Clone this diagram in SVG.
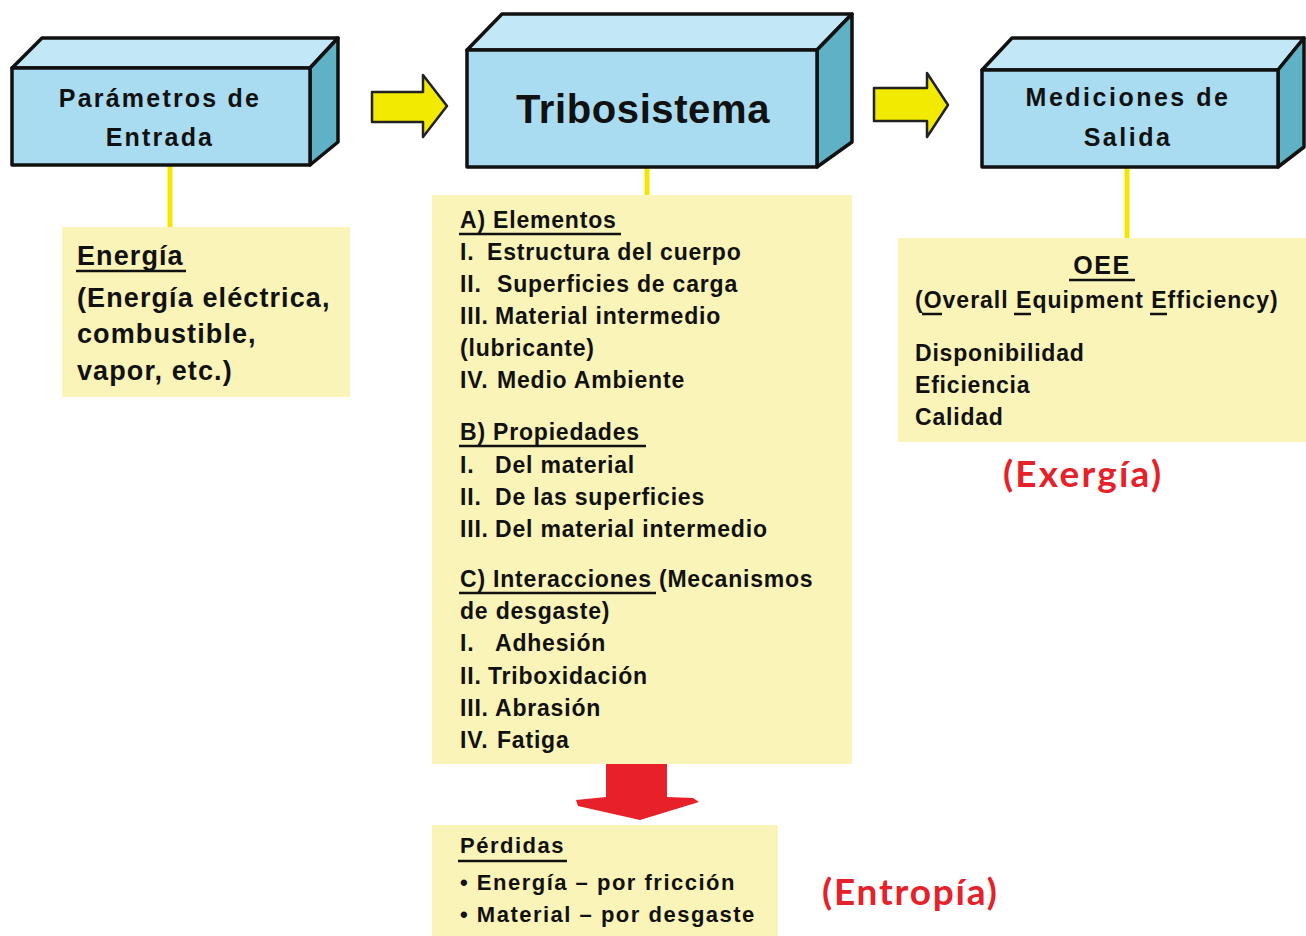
<svg xmlns="http://www.w3.org/2000/svg" width="1306" height="936" viewBox="0 0 1306 936">
<style>
.front{fill:#a9dcf0;stroke:#111;stroke-width:3.5;stroke-linejoin:round}
.top{fill:#c2e7f6;stroke:#111;stroke-width:3.5;stroke-linejoin:round}
.side{fill:#5fb2c5;stroke:#111;stroke-width:3.5;stroke-linejoin:round}
.note{fill:#faf4b9}
.bt{font-family:"Liberation Sans",Arial,sans-serif;font-weight:bold;fill:#111;text-anchor:middle}
.t{font-family:"Liberation Sans",Arial,sans-serif;font-weight:bold;fill:#111}
.ul{stroke:#111;stroke-width:2.5}
.red{font-family:Lato,"Open Sans",sans-serif;font-weight:bold;fill:#e62129}
.link{stroke:#f4e600;stroke-width:5}
.yarrow{fill:#f2ea00;stroke:#222;stroke-width:2.5;stroke-linejoin:round}
</style>
<rect width="1306" height="936" fill="#ffffff"/>

<g id="connectors">
<line class="link" x1="170" y1="165" x2="170" y2="228"/>
<line class="link" x1="647" y1="152" x2="647" y2="196"/>
<line class="link" x1="1127" y1="166" x2="1127" y2="238"/>
<polygon class="yarrow" points="372,92 423,92 423,75 447,106 423,137 423,122 372,122"/>
<polygon class="yarrow" points="874,88 927,88 927,73 948,105 927,137 927,121 874,121"/>
<polygon fill="#e8202a" points="606,756 667,756 667,797 693,798 699,802 640,820 578,806 576,800 606,797"/>
</g>

<g id="node-entrada">
<polygon class="top" points="12,68 42,38 338,38 310,68"/>
<polygon class="side" points="310,68 338,38 338,142 310,165"/>
<rect class="front" x="12" y="68" width="298" height="97"/>
<text class="bt" x="160" y="107" font-size="25" letter-spacing="2.2">Parámetros de</text>
<text class="bt" x="160" y="146" font-size="25" letter-spacing="2.2">Entrada</text>
</g>

<g id="node-tribosistema">
<polygon class="top" points="467,50 502,14 852,14 817,50"/>
<polygon class="side" points="817,50 852,14 852,142 817,167"/>
<rect class="front" x="467" y="50" width="350" height="117"/>
<text class="bt" x="643" y="123" font-size="40" letter-spacing="0.6">Tribosistema</text>
</g>

<g id="node-salida">
<polygon class="top" points="982,70 1012,38 1304,38 1278,70"/>
<polygon class="side" points="1278,70 1304,38 1304,147 1278,167"/>
<rect class="front" x="982" y="70" width="296" height="97"/>
<text class="bt" x="1128" y="106" font-size="25" letter-spacing="2.5">Mediciones de</text>
<text class="bt" x="1128" y="146" font-size="25" letter-spacing="2.5">Salida</text>
</g>

<g id="node-energia">
<rect class="note" x="62" y="227" width="288" height="170"/>
<text class="t" x="77" y="265" font-size="27" letter-spacing="1.1">Energía</text>
<line class="ul" x1="76" y1="271" x2="186" y2="271"/>
<text class="t" x="77" y="307" font-size="27" letter-spacing="1.1">(Energía eléctrica,</text>
<text class="t" x="77" y="343" font-size="27" letter-spacing="1.1">combustible,</text>
<text class="t" x="77" y="380" font-size="27" letter-spacing="1.1">vapor, etc.)</text>
</g>

<g id="node-detalle">
<rect class="note" x="432" y="195" width="420" height="569"/>
<g class="t" font-size="23" letter-spacing="0.8">
<text x="460" y="228">A) Elementos</text>
<text y="260"><tspan x="460">I.</tspan><tspan x="487">Estructura del cuerpo</tspan></text>
<text y="292"><tspan x="460">II.</tspan><tspan x="497">Superficies de carga</tspan></text>
<text y="324"><tspan x="460">III.</tspan><tspan x="495">Material intermedio</tspan></text>
<text x="460" y="356">(lubricante)</text>
<text y="388"><tspan x="460">IV.</tspan><tspan x="497">Medio Ambiente</tspan></text>
<text x="460" y="440">B) Propiedades</text>
<text y="473"><tspan x="460">I.</tspan><tspan x="495">Del material</tspan></text>
<text y="505"><tspan x="460">II.</tspan><tspan x="495">De las superficies</tspan></text>
<text y="537"><tspan x="460">III.</tspan><tspan x="495">Del material intermedio</tspan></text>
<text x="460" y="587">C) Interacciones (Mecanismos</text>
<text x="460" y="619">de desgaste)</text>
<text y="651"><tspan x="460">I.</tspan><tspan x="495">Adhesión</tspan></text>
<text y="684"><tspan x="460">II.</tspan><tspan x="488">Triboxidación</tspan></text>
<text y="716"><tspan x="460">III.</tspan><tspan x="495">Abrasión</tspan></text>
<text y="748"><tspan x="460">IV.</tspan><tspan x="497">Fatiga</tspan></text>
</g>
<line class="ul" x1="459" y1="234" x2="621" y2="234"/>
<line class="ul" x1="459" y1="446" x2="646" y2="446"/>
<line class="ul" x1="459" y1="593" x2="656" y2="593"/>
</g>

<g id="node-perdidas">
<rect class="note" x="432" y="825" width="346" height="111"/>
<g class="t" font-size="22" letter-spacing="1.5">
<text x="460" y="853">Pérdidas</text>
<text x="460" y="890">• Energía – por fricción</text>
<text x="460" y="922">• Material – por desgaste</text>
</g>
<line class="ul" x1="458" y1="861" x2="567" y2="861"/>
</g>

<g id="node-oee">
<rect class="note" x="898" y="238" width="408" height="204"/>
<text class="bt" x="1102" y="274" font-size="25" letter-spacing="1.5">OEE</text>
<line class="ul" x1="1069" y1="280" x2="1135" y2="280"/>
<text class="t" x="915" y="308" font-size="23" letter-spacing="1">(Overall Equipment Efficiency)</text>
<line class="ul" x1="922" y1="314" x2="942" y2="314"/>
<line class="ul" x1="1014" y1="314" x2="1031" y2="314"/>
<line class="ul" x1="1150" y1="314" x2="1167" y2="314"/>
<g class="t" font-size="23" letter-spacing="0.8">
<text x="915" y="361">Disponibilidad</text>
<text x="915" y="393">Eficiencia</text>
<text x="915" y="425">Calidad</text>
</g>
</g>

<g id="label-exergia">
<text class="red" x="1003" y="487" font-size="37" letter-spacing="2.2">(Exergía)</text>
</g>
<g id="label-entropia">
<text class="red" x="822" y="905" font-size="37" letter-spacing="1.8">(Entropía)</text>
</g>
</svg>
